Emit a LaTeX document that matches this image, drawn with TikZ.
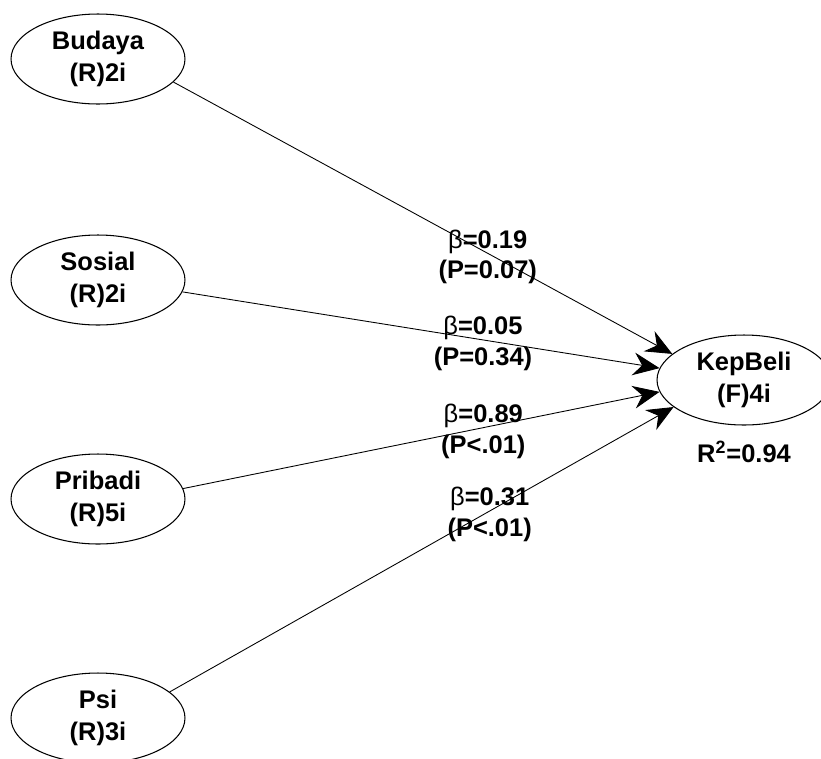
\documentclass[tikz,border=0pt]{standalone}
\usepackage{fontspec}
\setmainfont{Liberation Sans}
\usetikzlibrary{shapes.geometric,arrows.meta}

\begin{document}
\begin{tikzpicture}[x=0.02cm,y=-0.02cm,
  lat/.style={draw, ellipse, line width=0.6pt, minimum width=3.48cm, minimum height=1.8cm, inner sep=0pt, align=center, font=\fontsize{14.5}{18}\selectfont\bfseries},
  lbl/.style={align=center, inner sep=0pt, yshift=-2pt, font=\fontsize{14.5}{17.5}\selectfont\bfseries},
  path/.style={draw, line width=0.5pt, -{Stealth[length=15pt, width=13pt, inset=5pt]}}]
\useasboundingbox (0,0) rectangle (821,758);
\clip (0,0) rectangle (821,758);

\node[lat] (bud) at (98,59) {Budaya\\(R)2i};
\node[lat] (sos) at (98,280) {Sosial\\(R)2i};
\node[lat] (pri) at (98,499) {Pribadi\\(R)5i};
\node[lat] (psi) at (98,718) {Psi\\(R)3i};
\node[lat] (kep) at (744,380) {KepBeli\\(F)4i};
\node[lbl] (r2) at (744,448) {R\textsuperscript{2}=0.94};

\path[path] (bud.-17) -- node[lbl, pos=0.63] (l1) {\mdseries β\bfseries=0.19\\(P=0.07)} (kep.160);
\path[path] (sos.-8) -- node[lbl, pos=0.63] (l2) {\mdseries β\bfseries=0.05\\(P=0.34)} (kep.172);
\path[path] (pri.7) -- node[lbl, pos=0.63] (l3) {\mdseries β\bfseries=0.89\\(P<.01)} (kep.188);
\path[path] (psi.20) -- node[lbl, pos=0.635] (l4) {\mdseries β\bfseries=0.31\\(P<.01)} (kep.201.5);
\end{tikzpicture}
\end{document}
